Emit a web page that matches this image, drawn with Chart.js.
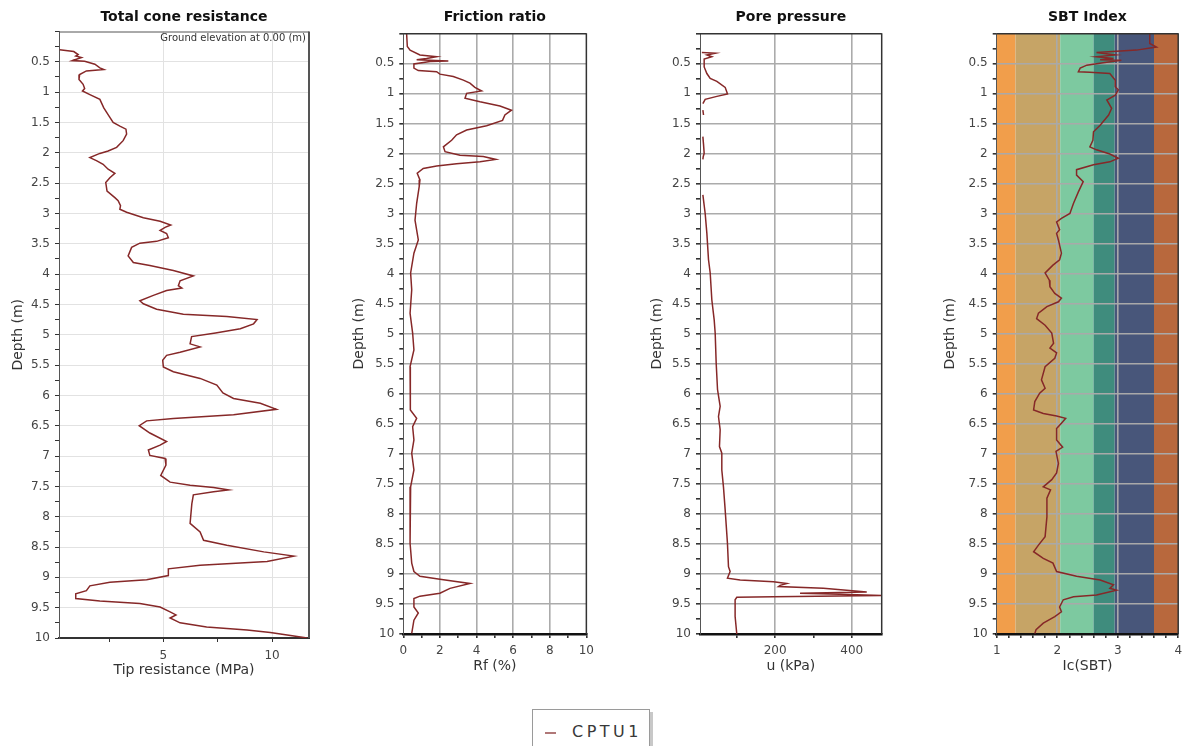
<!DOCTYPE html>
<html>
<head>
<meta charset="utf-8">
<title>CPTU1</title>
<script src="https://cdn.jsdelivr.net/npm/chart.js@4.4.1/dist/chart.umd.min.js"></script>
<style>
  body { margin: 0; background: #fff; width: 1183px; height: 746px; overflow: hidden; position: relative; font-family: "DejaVu Sans", sans-serif; }
  canvas { position: absolute; top: 0; }
  #legend {
    position: absolute; left: 532px; top: 709px; width: 118px; height: 44px;
    border: 1px solid #9a9a9a; box-shadow: 3px 3px 0 #c8c8c8; background: #fff;
    font: 16px "DejaVu Sans", sans-serif; color: #383838; letter-spacing: 3.5px; line-height: 44px;
    box-sizing: border-box; padding-left: 12px; white-space: nowrap;
  }
  #legend .swatch { display: inline-block; width: 11px; height: 2px; background: #b07878; vertical-align: middle; margin-right: 16px; }
</style>
</head>
<body>
<canvas id="qt" width="320" height="690" style="left:0px"></canvas>
<canvas id="rf" width="270" height="690" style="left:330px"></canvas>
<canvas id="u" width="260" height="690" style="left:630px"></canvas>
<canvas id="ic" width="275" height="690" style="left:920px"></canvas>
<div id="legend"><span class="swatch"></span>CPTU1</div>
<script>
// depth axis (m)
const depthTicks = [0, 0.25, 0.5, 0.75, 1, 1.25, 1.5, 1.75, 2, 2.25, 2.5, 2.75, 3, 3.25, 3.5, 3.75, 4, 4.25, 4.5, 4.75,
  5, 5.25, 5.5, 5.75, 6, 6.25, 6.5, 6.75, 7, 7.25, 7.5, 7.75, 8, 8.25, 8.5, 8.75, 9, 9.25, 9.5, 9.75, 10];
const depthLabels = [0.5, 1, 1.5, 2, 2.5, 3, 3.5, 4, 4.5, 5, 5.5, 6, 6.5, 7, 7.5, 8, 8.5, 9, 9.5, 10];

// total cone resistance qt (MPa)
const qtDepth = [0.30, 0.33, 0.38, 0.405, 0.43, 0.48, 0.49, 0.54, 0.60, 0.626, 0.65, 0.71, 0.79, 0.87, 0.94, 0.98,
  1.04, 1.12, 1.26, 1.40, 1.50, 1.56, 1.61, 1.69, 1.80, 1.91, 1.97, 2.01, 2.08, 2.13, 2.19, 2.27, 2.34, 2.41, 2.49,
  2.63, 2.74, 2.79, 2.87, 2.93, 2.98, 3.07, 3.13, 3.19, 3.23, 3.28, 3.33, 3.40, 3.46, 3.49, 3.56, 3.70, 3.81, 3.86,
  3.94, 4.03, 4.11, 4.19, 4.23, 4.27, 4.35, 4.44, 4.49, 4.58, 4.66, 4.70, 4.75, 4.82, 4.90, 4.97, 5.03, 5.15, 5.20,
  5.29, 5.34, 5.42, 5.53, 5.61, 5.72, 5.83, 5.96, 6.05, 6.13, 6.23, 6.32, 6.38, 6.42, 6.50, 6.62, 6.76, 6.82, 6.90,
  6.99, 7.04, 7.15, 7.32, 7.43, 7.48, 7.52, 7.56, 7.59, 7.64, 7.79, 8.11, 8.25, 8.39, 8.47, 8.58, 8.65, 8.74, 8.80,
  8.86, 8.97, 9.04, 9.08, 9.14, 9.22, 9.27, 9.35, 9.39, 9.43, 9.49, 9.57, 9.62, 9.67, 9.75, 9.82, 9.87, 9.91, 9.96, 10.0];
const qtValue = [0.23, 0.88, 1.08, 0.97, 1.23, 0.82, 1.38, 1.85, 2.08, 2.26, 1.46, 1.15, 1.12, 1.31, 1.38, 1.28,
  1.62, 2.08, 2.26, 2.51, 2.69, 3.0, 3.28, 3.31, 3.15, 2.85, 2.46, 2.08, 1.62, 1.92, 2.23, 2.46, 2.77, 2.54, 2.35,
  2.41, 2.77, 2.92, 3.03, 3.0, 3.31, 4.08, 4.85, 5.34, 5.08, 4.85, 5.15, 5.23, 4.69, 3.92, 3.54, 3.38, 3.62, 4.38,
  5.46, 6.38, 5.77, 5.69, 5.85, 5.15, 4.54, 3.92, 4.08, 4.69, 5.92, 7.92, 9.31, 9.15, 8.54, 7.4, 6.3, 6.23, 6.69,
  5.77, 5.15, 4.97, 5.0, 5.46, 6.69, 7.46, 7.74, 8.23, 9.46, 10.2, 8.23, 5.46, 4.23, 3.89, 4.38, 5.15, 4.85, 4.31,
  4.38, 5.08, 5.12, 4.88, 5.31, 6.23, 7.31, 8.0, 7.31, 6.38, 6.31, 6.23, 6.69, 6.85, 7.92, 9.62, 11.0, 9.77, 6.69,
  5.23, 5.23, 4.23, 2.54, 1.62, 1.46, 0.97, 0.97, 2.08, 3.92, 4.85, 5.31, 5.58, 5.31, 5.77, 6.99, 8.85, 9.92, 10.85, 11.62];
const qtTicks = [2.5, 5, 7.5, 10];
const qtLabels = [5, 10];

// friction ratio Rf (%)
const rfDepth = [0, 0.22, 0.28, 0.36, 0.39, 0.42, 0.44, 0.46, 0.47, 0.51, 0.58, 0.62, 0.64, 0.68, 0.72, 0.78, 0.83,
  0.90, 0.96, 1.0, 1.08, 1.14, 1.21, 1.28, 1.36, 1.45, 1.54, 1.61, 1.69, 1.78, 1.89, 1.97, 2.03, 2.05, 2.10, 2.14,
  2.17, 2.21, 2.25, 2.33, 2.44, 2.55, 2.83, 3.11, 3.44, 3.66, 3.99, 4.27, 4.66, 4.99, 5.27, 5.55, 5.93, 6.27, 6.41,
  6.55, 6.77, 6.99, 7.27, 7.55, 8.0, 8.49, 8.82, 8.96, 9.04, 9.09, 9.16, 9.24, 9.32, 9.37, 9.41, 9.55, 9.65, 9.77, 9.99];
const rfValue = [0.18, 0.22, 0.37, 0.91, 1.82, 1.27, 0.73, 2.46, 1.46, 0.58, 0.58, 0.82, 1.82, 2.0, 2.73, 3.28, 3.64,
  3.91, 4.28, 3.46, 3.37, 4.19, 5.28, 5.91, 5.55, 5.42, 4.55, 3.46, 2.91, 2.64, 2.19, 2.28, 3.10, 4.37, 5.06, 4.19,
  2.91, 1.82, 1.09, 0.76, 0.91, 0.87, 0.73, 0.64, 0.82, 0.58, 0.40, 0.46, 0.37, 0.51, 0.58, 0.37, 0.37, 0.40, 0.73,
  0.51, 0.58, 0.46, 0.58, 0.40, 0.37, 0.37, 0.46, 0.58, 0.91, 2.0, 3.64, 2.55, 2.0, 0.91, 0.58, 0.58, 0.82, 0.58, 0.46];
const rfTicks = [0, 1, 2, 3, 4, 5, 6, 7, 8, 9, 10];
const rfLabels = [0, 2, 4, 6, 8, 10];

// pore pressure u (kPa), null where the record has no reading
const uDepth = [0.32, 0.33, 0.36, 0.39, 0.43, 0.56, 0.67, 0.75, 0.80, 0.90, 1.01, 1.05, 1.10, 1.17, 1.22, 1.28, 1.36,
  1.5, 1.72, 1.85, 2.0, 2.05, 2.1, 2.4, 2.69, 3.0, 3.33, 3.77, 3.99, 4.44, 4.77, 4.99, 5.49, 5.93, 6.21, 6.38, 6.60,
  6.88, 6.99, 7.27, 7.55, 7.93, 8.49, 8.88, 8.96, 9.07, 9.10, 9.13, 9.16, 9.19, 9.21, 9.24, 9.30, 9.32, 9.34, 9.36,
  9.38, 9.39, 9.43, 9.71, 10.0];
const uValue = [8.8, 43.6, 21.9, 34.9, 14.9, 14.9, 21.9, 30.6, 48, 69.7, 75.8, 48, 17.5, 11.5, null, 11.5, 13.2,
  null, 11.5, 13.2, 14.9, 12.5, 11.5, null, 11.5, 17.5, 21.9, 26.2, 30.6, 34.9, 41, 43.6, 46.2, 49.7, 56.6, 52.2, 56.6,
  54.8, 60.9, 60.9, 65.2, 69.6, 75.6, 78.3, 82.6, 75.6, 108.7, 195.6, 230.4, 213, 208.7, 326, 439, 265, 369, 478,
  195.6, 100, 95.6, 95.6, 100];
const uTicks = [100, 200, 300, 400];
const uLabels = [200, 400];

// SBT index Ic
const icDepth = [0, 0.17, 0.23, 0.28, 0.32, 0.36, 0.39, 0.42, 0.44, 0.45, 0.49, 0.53, 0.58, 0.64, 0.65, 0.67, 0.78,
  0.89, 0.94, 1.03, 1.11, 1.25, 1.36, 1.53, 1.64, 1.78, 1.89, 1.94, 2.01, 2.08, 2.14, 2.19, 2.27, 2.36, 2.47, 2.64,
  2.83, 3.00, 3.08, 3.14, 3.27, 3.33, 3.44, 3.66, 3.77, 3.86, 3.99, 4.11, 4.22, 4.33, 4.41, 4.47, 4.55, 4.66, 4.75,
  4.86, 4.99, 5.16, 5.24, 5.32, 5.41, 5.55, 5.77, 5.91, 5.99, 6.13, 6.27, 6.33, 6.37, 6.41, 6.49, 6.58, 6.77, 6.89,
  6.96, 7.16, 7.32, 7.43, 7.55, 7.60, 7.74, 8.05, 8.38, 8.52, 8.63, 8.74, 8.82, 8.96, 9.04, 9.10, 9.18, 9.24, 9.27,
  9.35, 9.38, 9.43, 9.55, 9.63, 9.71, 9.82, 9.93, 9.99];
const icValue = [3.53, 3.53, 3.64, 3.31, 2.65, 2.96, 2.65, 2.93, 2.71, 3.06, 2.76, 2.49, 2.38, 2.35, 2.54, 2.87, 2.96,
  2.96, 3.01, 2.96, 2.82, 2.90, 2.85, 2.71, 2.60, 2.59, 2.54, 2.65, 2.87, 3.01, 2.87, 2.60, 2.32, 2.32, 2.43, 2.35,
  2.27, 2.21, 2.07, 1.99, 2.04, 1.99, 2.02, 2.07, 2.04, 1.93, 1.80, 1.87, 1.88, 1.96, 2.07, 2.02, 1.83, 1.69, 1.66,
  1.80, 1.91, 1.94, 1.88, 1.99, 1.96, 1.80, 1.74, 1.80, 1.71, 1.63, 1.61, 1.77, 1.99, 2.14, 2.07, 1.99, 1.99, 2.09,
  1.98, 2.02, 1.99, 1.91, 1.77, 1.89, 1.83, 1.83, 1.80, 1.69, 1.61, 1.77, 1.93, 1.99, 2.32, 2.71, 2.93, 2.87, 2.98,
  2.65, 2.27, 2.10, 2.04, 2.07, 1.96, 1.77, 1.65, 1.63];
const icTicks = [1, 1.2, 1.4, 1.6, 1.8, 2, 2.2, 2.4, 2.6, 2.8, 3, 3.2, 3.4, 3.6, 3.8, 4];
const icLabels = [1, 2, 3, 4];

// soil behaviour type zone limits on Ic and their fills
const sbtBounds = [1, 1.31, 2.05, 2.6, 2.95, 3.6, 4];
const sbtColours = ['#f19e4b', '#c6a466', '#7dc9a0', '#3f8c7d', '#48567a', '#b8683d'];

const lineColour = '#862828';
const tickFont = { family: 'DejaVu Sans', size: 12 };
const titleFont = { family: 'DejaVu Sans', size: 14 };

const has = (list, v) => list.some(l => Math.abs(l - v) < 1e-6);
const toPoints = (depth, value) => depth.map((d, i) => ({ x: value[i], y: d }));

// panel heading, optional note, zone bands and the plot frame
const panelDecor = {
  id: 'panelDecor',
  beforeDraw(chart, args, opts) {
    if (!opts.bands) return;
    const { ctx, chartArea: a, scales: { x } } = chart;
    ctx.save();
    for (let i = 0; i < opts.bands.length - 1; i++) {
      const x0 = x.getPixelForValue(opts.bands[i]);
      const x1 = x.getPixelForValue(opts.bands[i + 1]);
      ctx.fillStyle = opts.colours[i];
      ctx.fillRect(x0, a.top, x1 - x0, a.bottom - a.top);
    }
    ctx.restore();
  },
  afterDatasetsDraw(chart, args, opts) {
    const { ctx, chartArea: a } = chart;
    ctx.save();
    ctx.strokeStyle = opts.frameColour;
    ctx.lineWidth = opts.frameTop;
    ctx.beginPath();
    ctx.moveTo(a.left, a.top + 0.5);
    ctx.lineTo(a.right, a.top + 0.5);
    ctx.stroke();
    ctx.lineWidth = opts.frameRight;
    ctx.beginPath();
    ctx.moveTo(a.right, a.top);
    ctx.lineTo(a.right, a.bottom);
    ctx.stroke();
    ctx.restore();
  },
  afterDraw(chart, args, opts) {
    const { ctx, chartArea: a } = chart;
    ctx.save();
    ctx.fillStyle = '#111';
    ctx.font = 'bold 14px "DejaVu Sans"';
    ctx.textAlign = 'center';
    ctx.textBaseline = 'middle';
    ctx.fillText(opts.heading, (a.left + a.right) / 2, opts.headingY);
    if (opts.note) {
      ctx.font = '10px "DejaVu Sans"';
      ctx.fillStyle = '#333';
      ctx.textAlign = 'right';
      ctx.fillText(opts.note, a.right - 3, a.top + 7);
    }
    ctx.restore();
  }
};

function panel(id, p) {
  return new Chart(document.getElementById(id), {
    type: 'scatter',
    data: {
      datasets: [{
        label: 'CPTU1',
        data: p.points,
        showLine: true,
        spanGaps: false,
        borderColor: lineColour,
        borderWidth: 1.5,
        pointRadius: 0,
        tension: 0
      }]
    },
    options: {
      responsive: false,
      animation: false,
      devicePixelRatio: 1,
      layout: { padding: { top: p.top, right: p.right, left: 0, bottom: 0 } },
      plugins: {
        legend: { display: false },
        title: { display: false },
        tooltip: { enabled: false },
        panelDecor: {
          heading: p.heading, headingY: 17.5, note: p.note,
          bands: p.bands, colours: p.colours,
          frameColour: p.frameColour, frameTop: p.frameTop, frameRight: p.frameRight
        }
      },
      scales: {
        x: {
          type: 'linear', position: 'bottom',
          min: p.xMin, max: p.xMax,
          afterBuildTicks: s => { s.ticks = p.xTicks.map(v => ({ value: v })); },
          afterFit: s => { s.height = p.xHeight; },
          ticks: {
            autoSkip: false, maxRotation: 0, padding: p.xTickPad, color: '#444', font: tickFont,
            callback: v => has(p.xLabels, v) ? String(v) : ''
          },
          grid: {
            drawTicks: true, tickLength: 4, tickColor: '#333', lineWidth: p.gridWidth,
            color: c => has(p.xGrid, c.tick.value) ? p.gridColour : 'transparent'
          },
          border: { color: p.bottomColour, width: p.bottomWidth },
          title: { display: true, text: p.xTitle, color: '#333', font: titleFont, padding: { top: 0, bottom: p.xTitlePad } }
        },
        y: {
          type: 'linear', position: 'left', reverse: true,
          min: 0, max: 10,
          afterBuildTicks: s => { s.ticks = depthTicks.map(v => ({ value: v })); },
          afterFit: s => { s.width = p.yWidth; },
          ticks: {
            autoSkip: false, padding: 5, color: '#444', font: tickFont,
            callback: v => has(depthLabels, v) ? String(v) : ''
          },
          grid: {
            drawTicks: true, tickLength: 4, tickColor: '#333', lineWidth: p.gridWidth,
            color: c => has(depthLabels, c.tick.value) ? p.gridColour : 'transparent'
          },
          border: { color: '#555', width: 1 },
          title: { display: true, text: 'Depth (m)', color: '#333', font: titleFont, padding: { top: p.yTitlePad, bottom: 0 } }
        }
      }
    },
    plugins: [panelDecor]
  });
}

panel('qt', {
  points: toPoints(qtDepth, qtValue), heading: 'Total cone resistance', note: 'Ground elevation at 0.00 (m)',
  xTitle: 'Tip resistance (MPa)', xMin: 0.2, xMax: 11.7, xTicks: qtTicks, xLabels: qtLabels, xGrid: qtLabels,
  top: 31.5, right: 11, yWidth: 59, yTitlePad: 9.5, xHeight: 52, xTitlePad: 11.5, xTickPad: 7,
  gridColour: '#e2e2e2', gridWidth: 1, bottomColour: '#333', bottomWidth: 2,
  frameColour: '#555', frameTop: 1, frameRight: 2
});

panel('rf', {
  points: toPoints(rfDepth, rfValue), heading: 'Friction ratio',
  xTitle: 'Rf (%)', xMin: 0, xMax: 10, xTicks: rfTicks, xLabels: rfLabels, xGrid: [2, 4, 6, 8],
  top: 33.3, right: 13.3, yWidth: 73.3, yTitlePad: 20.5, xHeight: 56, xTitlePad: 15, xTickPad: 6,
  gridColour: '#ababab', gridWidth: 1.6, bottomColour: '#111', bottomWidth: 2.5,
  frameColour: '#333', frameTop: 1.5, frameRight: 1.5
});

panel('u', {
  points: toPoints(uDepth, uValue), heading: 'Pore pressure',
  xTitle: 'u (kPa)', xMin: 4, xMax: 478, xTicks: uTicks, xLabels: uLabels, xGrid: uLabels,
  top: 33.3, right: 8.3, yWidth: 70, yTitlePad: 18.5, xHeight: 56, xTitlePad: 15, xTickPad: 6,
  gridColour: '#ababab', gridWidth: 1.6, bottomColour: '#111', bottomWidth: 2.5,
  frameColour: '#333', frameTop: 1.5, frameRight: 1.5
});

panel('ic', {
  points: toPoints(icDepth, icValue), heading: 'SBT Index',
  xTitle: 'Ic(SBT)', xMin: 1, xMax: 4, xTicks: icTicks, xLabels: icLabels, xGrid: [2, 3],
  top: 33.3, right: 16.8, yWidth: 76.7, yTitlePad: 21.5, xHeight: 56, xTitlePad: 15, xTickPad: 6,
  gridColour: '#a9a9a9', gridWidth: 1.6, bottomColour: '#111', bottomWidth: 2.5,
  frameColour: '#333', frameTop: 1.5, frameRight: 1.5,
  bands: sbtBounds, colours: sbtColours
});
</script>
</body>
</html>
